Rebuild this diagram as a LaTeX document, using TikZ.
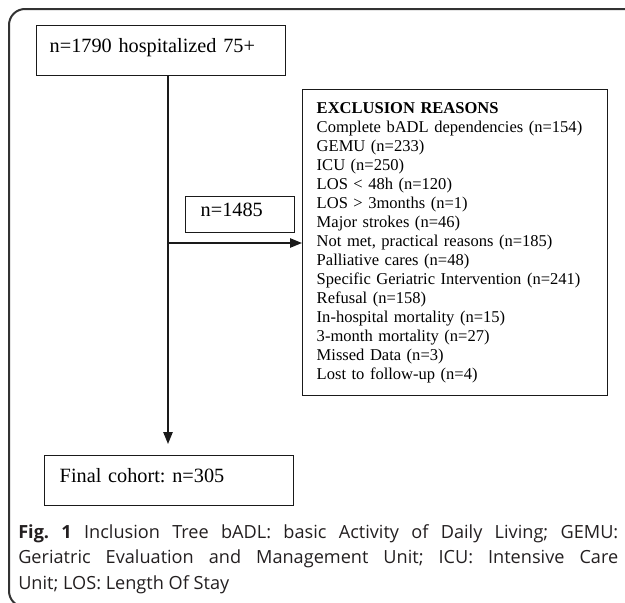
\documentclass[tikz,border=0pt]{standalone}
\usepackage{fontspec}
\setmainfont{Liberation Serif}
\newfontfamily\capfont{Open Sans}
\usetikzlibrary{arrows.meta}
\definecolor{ink}{HTML}{1A1A1A}
\definecolor{framec}{HTML}{333333}
\definecolor{capc}{HTML}{231F20}
\frenchspacing
\begin{document}
\begin{tikzpicture}[x=0.75pt,y=-0.75pt,
  boxnode/.style={draw=ink, line width=1.1pt, anchor=north west, inner ysep=0pt,
    align=left, text height=0.7em, text depth=0.4em,
    font=\fontsize{15.2pt}{18pt}\selectfont},
  exclnode/.style={draw=ink, line width=1.1pt, anchor=north west, inner ysep=0pt,
    inner xsep=10.5pt, align=left, font=\fontsize{12.4pt}{14.25pt}\selectfont},
  flow/.style={draw=ink, line width=1.2pt},
  arrowtip/.style={-{Triangle[length=9pt,width=7pt]}},
  captext/.style={anchor=north west, inner sep=0pt, text width=450pt, align=justify,
    text=capc, font=\capfont\fontsize{13.6pt}{19.1pt}\selectfont\frenchspacing}
]
\useasboundingbox (0,0) rectangle (625,603);
\begin{scope}
  \clip (0,0) rectangle (625,603);
  \draw[framec, line width=1.5pt, rounded corners=12pt] (9,9) rectangle (700,607);
\end{scope}

\node[boxnode, inner xsep=9.75pt, text width=167.25pt, minimum height=37.5pt] (hosp) at (36,25) {n=1790 hospitalized 75+};

\node[boxnode, inner xsep=11.25pt, text width=59.25pt, minimum height=27pt] (mid) at (185,196) {n=1485};

\node[exclnode, text width=207.75pt, minimum height=229.5pt] (excl) at (302,89) {\textbf{EXCLUSION REASONS}\\
Complete bADL dependencies (n=154)\\
GEMU (n=233)\\
ICU (n=250)\\
LOS {\textless} 48h (n=120)\\
LOS {\textgreater} 3months (n=1)\\
Major strokes (n=46)\\
Not met, practical reasons (n=185)\\
Palliative cares (n=48)\\
Specific Geriatric Intervention (n=241)\\
Refusal (n=158)\\
In-hospital mortality (n=15)\\
3-month mortality (n=27)\\
Missed Data (n=3)\\
Lost to follow-up (n=4)};

\node[boxnode, inner xsep=11.25pt, text width=164.25pt, minimum height=37.5pt] (final) at (44,455) {Final cohort: n=305};

\coordinate (spine) at (168,0);
\coordinate (branch) at (168,243);
\draw[flow, arrowtip, shorten >=8.25pt] (hosp.south -| spine) -- (final.north -| spine);
\draw[flow, arrowtip] (branch) -- (branch -| excl.west);

\node[captext] (cap) at (18,524) {\textbf{Fig.\ 1} Inclusion Tree bADL: basic Activity of Daily Living; GEMU:\linebreak Geriatric Evaluation and Management Unit; ICU: Intensive Care\linebreak Unit; LOS: Length Of Stay};
\end{tikzpicture}
\end{document}
